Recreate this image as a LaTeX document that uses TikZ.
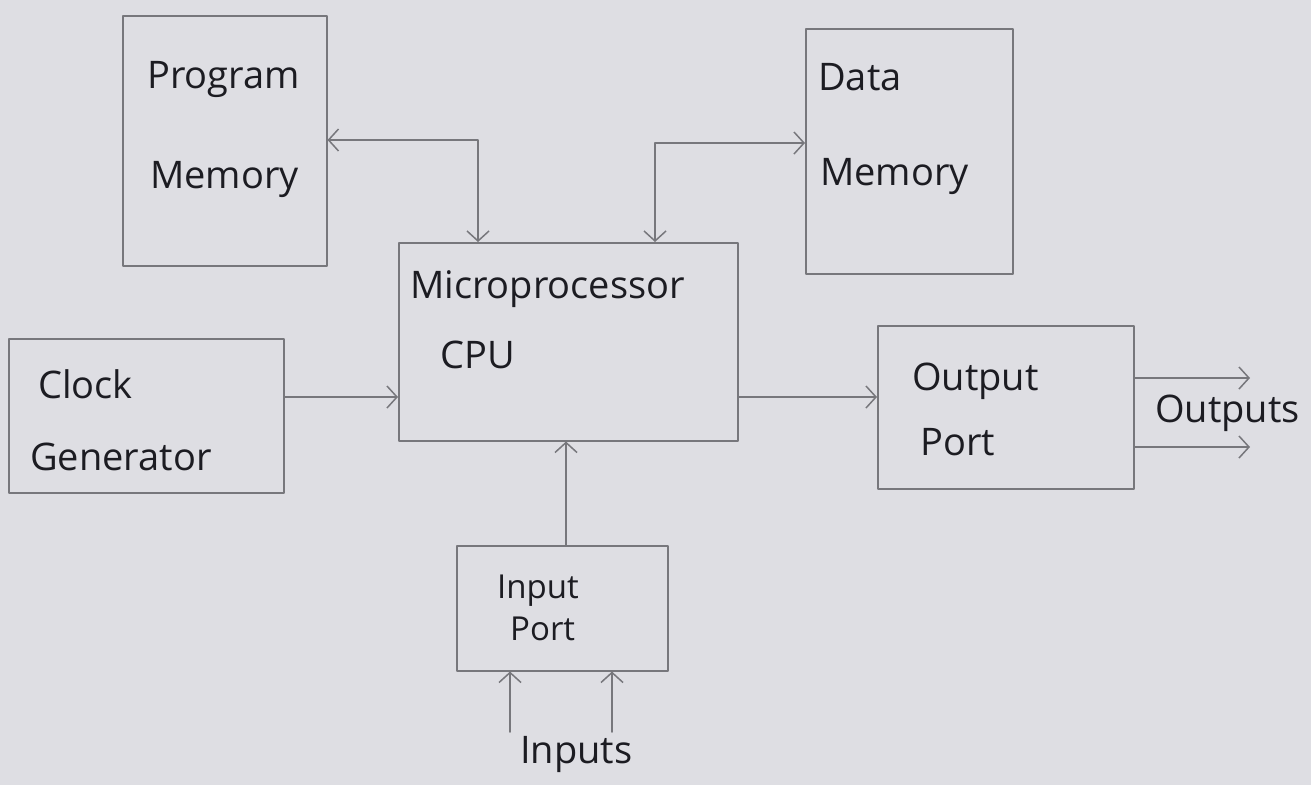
\documentclass[tikz,border=0pt]{standalone}
\usepackage{fontspec}
\setmainfont{Open Sans}
\usetikzlibrary{arrows.meta,calc}
\definecolor{mpPaper}{HTML}{DEDEE3}
\definecolor{mpPencil}{HTML}{77777C}
\definecolor{mpInk}{HTML}{1C1C22}
\newcommand{\MPType}{\fontsize{38}{44}\selectfont}
\newcommand{\MPSmall}{\fontsize{33}{38}\selectfont}
\tikzset{mptip/.tip={Straight Barb[length=10pt,width=22pt,line width=1.5pt]},
  mp/base/.style={x=1pt,y=1pt,line cap=round,line join=round,
  every node/.style={font=\MPType,inner sep=0pt,text=mpInk}},
  mp/box/.style={draw=mpPencil,line width=1.5pt,anchor=north west},
  mp/arrow/.style={-mptip,draw=mpPencil,line width=1.5pt},
  mp/both/.style={mptip-mptip,draw=mpPencil,line width=1.5pt},
  mp/text/.style={anchor=base west}}

\begin{document}
\begin{tikzpicture}[mp/base,y=-1pt]
  \fill[mpPaper] (0,0) rectangle (1311,785);
  \useasboundingbox (0,0) rectangle (1311,785);
  % blocks
  \node[mp/box,minimum width=204pt,minimum height=250pt] (pm) at (122,15) {};
  \node[mp/box,minimum width=207pt,minimum height=245pt] (dm) at (805,28) {};
  \node[mp/box,minimum width=339pt,minimum height=198pt] (cpu) at (398,242) {};
  \node[mp/box,minimum width=275pt,minimum height=154pt] (clk) at (8,338) {};
  \node[mp/box,minimum width=256pt,minimum height=163pt] (op) at (877,325) {};
  \node[mp/box,minimum width=211pt,minimum height=125pt] (ip) at (456,545) {};
  % labels
  \node[mp/text] (pmA) at (147,88) {Program};
  \node[mp/text] (pmB) at (150,188) {Memory};
  \node[mp/text] (dmA) at (818,90) {Data};
  \node[mp/text] (dmB) at (820,185) {Memory};
  \node[mp/text] (cpuA) at (410,298) {Microprocessor};
  \node[mp/text] (cpuB) at (440,368) {CPU};
  \node[mp/text] (clkA) at (38,398) {Clock};
  \node[mp/text] (clkB) at (30,470) {Generator};
  \node[mp/text] (opA) at (912,390) {Output};
  \node[mp/text] (opB) at (920,455) {Port};
  \node[mp/text,font=\MPSmall] (ipA) at (497,598) {Input};
  \node[mp/text,font=\MPSmall] (ipB) at (510,640) {Port};
  \node[mp/text] (outs) at (1155,422) {Outputs};
  \node[mp/text] (ins) at (520,763) {Inputs};
  % buses
  \coordinate (pmj) at (478,140);
  \coordinate (dmj) at (655,143);
  \draw[mp/both] (pm.east |- pmj) -- (pmj) -- (pmj |- cpu.north);
  \draw[mp/both] (dmj |- cpu.north) -- (dmj) -- (dm.west |- dmj);
  \coordinate (row) at (0,397);
  \draw[mp/arrow] (clk.east |- row) -- (cpu.west |- row);
  \draw[mp/arrow] (cpu.east |- row) -- (op.west |- row);
  \draw[mp/arrow] (ip.north -| 566,0) -- (cpu.south -| 566,0);
  \coordinate (oa) at (1250,378);
  \coordinate (ob) at (1250,447);
  \draw[mp/arrow] (op.east |- oa) -- (oa);
  \draw[mp/arrow] (op.east |- ob) -- (ob);
  \coordinate (ia) at (510,732);
  \coordinate (ib) at (612,732);
  \draw[mp/arrow] (ia) -- (ip.south -| ia);
  \draw[mp/arrow] (ib) -- (ip.south -| ib);
\end{tikzpicture}
\end{document}
